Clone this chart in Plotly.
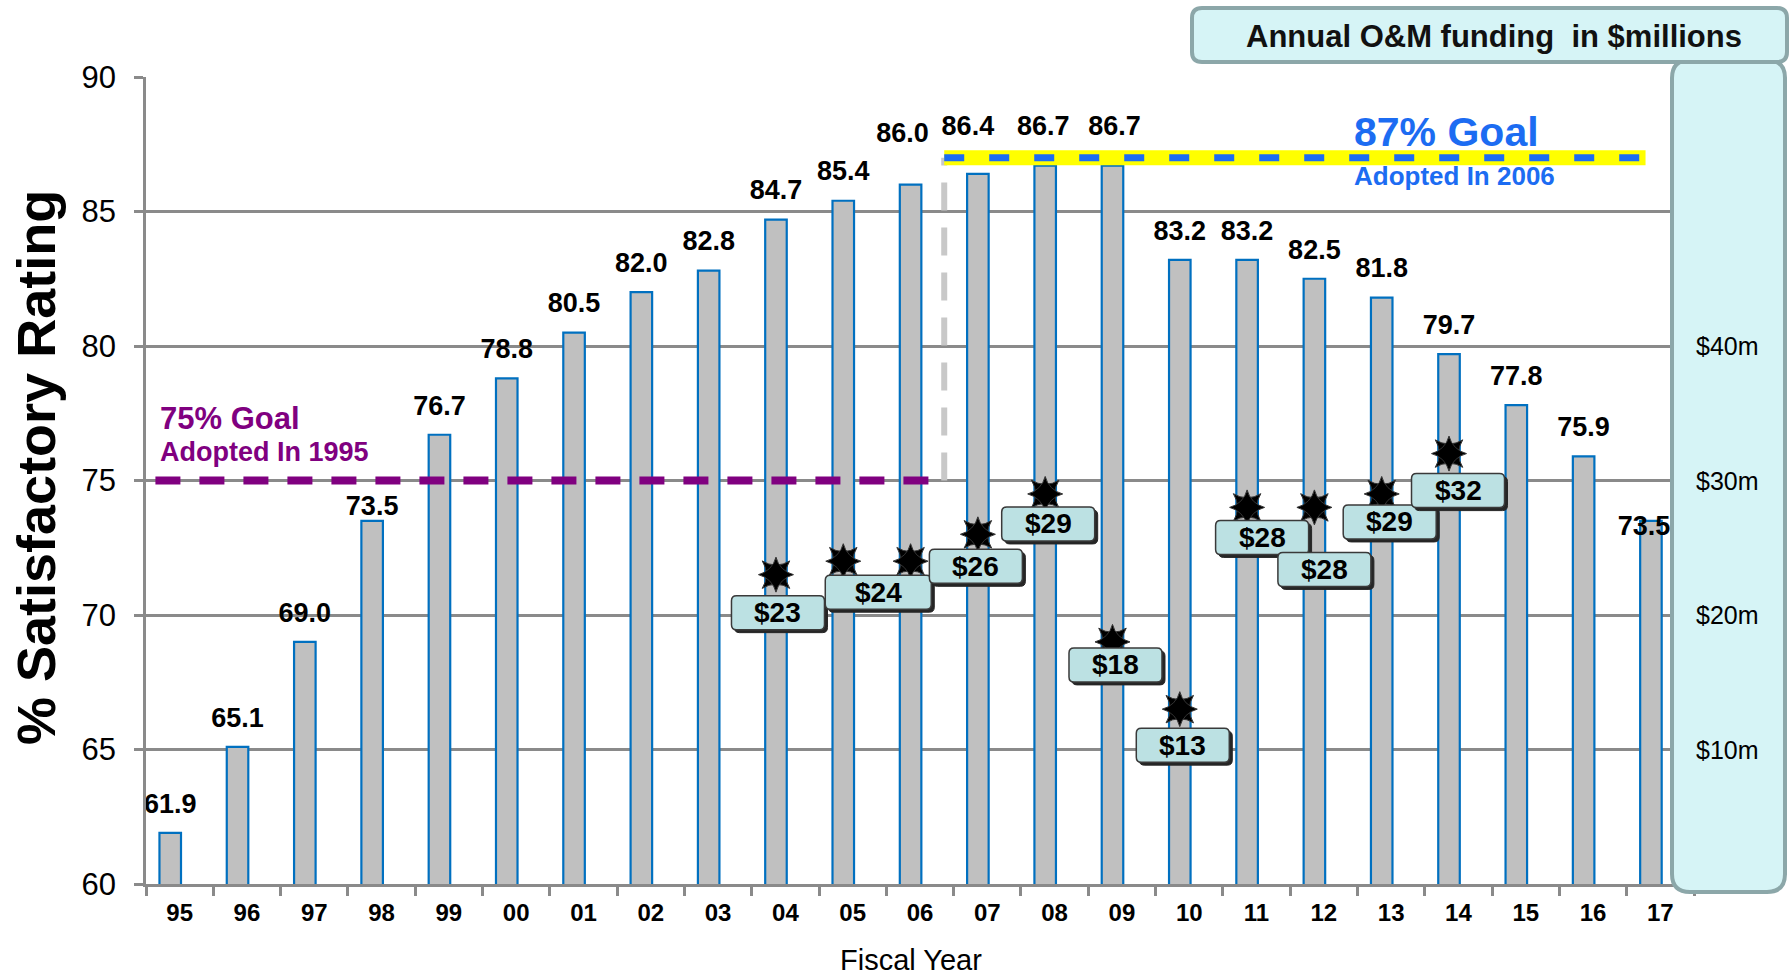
import plotly.graph_objects as go

# ---- data ---------------------------------------------------------------
years = ["95", "96", "97", "98", "99", "00", "01", "02", "03", "04", "05", "06",
         "07", "08", "09", "10", "11", "12", "13", "14", "15", "16", "17"]
rating = [61.9, 65.1, 69.0, 73.5, 76.7, 78.8, 80.5, 82.0, 82.8, 84.7, 85.4, 86.0,
          86.4, 86.7, 86.7, 83.2, 83.2, 82.5, 81.8, 79.7, 77.8, 75.9, 73.5]

funding_years = ["04", "05", "06", "07", "08", "09", "10", "11", "12", "13", "14"]
funding = [23, 24, 24, 26, 29, 18, 13, 28, 28, 29, 32]          # $ millions
callout_years = ["04", "05", "07", "08", "09", "10", "11", "12", "13", "14"]

funding_ticks = [10, 20, 30, 40]
goal_1995 = 75
goal_2006 = 87

# ---- layout constants ----------------------------------------------------
W, H = 1791, 979
ML, MR, MT, MB = 146, 97, 77, 95
PW, PH = W - ML - MR, H - MT - MB
PX_PER_CAT = PW / len(years)
PX_PER_PCT = PH / 30.0
FONT = "Liberation Sans, Arial, Helvetica, sans-serif"
GRID = "#8a8a8a"
BAR_OFFSET, BAR_WIDTH = -0.30, 0.32
BAR_MID = BAR_OFFSET + BAR_WIDTH / 2
idx = {y: i for i, y in enumerate(years)}

# value label placement (px): default lift above the bar top, plus a few hand-placed ones
LABEL_LIFT = 27
label_nudge = {"98": (0, 13), "06": (-8, 49), "07": (-10, 46), "08": (-2, 38),
               "09": (2, 38), "17": (-7, -7)}

# funding callout boxes: (x shift px, y shift px, box width px)
callout_nudge = {"04": (2, -38, 93), "05": (35, -31, 106), "07": (-2, -32, 93), "08": (3, -30, 93),
                 "09": (3, -23, 93), "10": (3, -36, 93), "11": (15, -30, 93), "12": (10, -62, 93),
                 "13": (8, -28, 93), "14": (9, -37, 93)}
BOX_H = 34


def px(xp):
    return (xp - ML) / PW


def py(yp):
    return (H - MB - yp) / PH


def rr_points(x0, y0, x1, y1, r):
    return [("M", x0 + r, y0), ("L", x1 - r, y0), ("Q", x1, y0, x1, y0 + r),
            ("L", x1, y1 - r), ("Q", x1, y1, x1 - r, y1), ("L", x0 + r, y1),
            ("Q", x0, y1, x0, y1 - r), ("L", x0, y0 + r), ("Q", x0, y0, x0 + r, y0)]


def path_from(points, fx, fy, fmt="{:.5f}"):
    out = []
    for p in points:
        cmd, coords = p[0], p[1:]
        xy = [f"{fmt.format(fx(coords[k]))},{fmt.format(fy(coords[k + 1]))}"
              for k in range(0, len(coords), 2)]
        out.append(cmd + " " + " ".join(xy))
    return " ".join(out) + " Z"


def rounded_rect_paper(x0, y0, x1, y1, r):
    return path_from(rr_points(x0, y0, x1, y1, r), px, py)


def rounded_rect_pixels(cx, cy, w, h, r):
    # pixel offsets from the shape anchor (y grows upward)
    return path_from(rr_points(cx - w / 2, cy - h / 2, cx + w / 2, cy + h / 2, r),
                     lambda v: v, lambda v: v, "{:.2f}")


fig = go.Figure()

# rating bars
fig.add_trace(go.Bar(
    x=list(range(len(years))), y=rating, offset=BAR_OFFSET, width=BAR_WIDTH,
    marker=dict(color="#c0c0c0", line=dict(color="#0070c0", width=2.2)),
    hoverinfo="skip",
))

# value labels above the bars
lab_x, lab_y = [], []
for i, (yr, r) in enumerate(zip(years, rating)):
    dx, dy = label_nudge.get(yr, (0, LABEL_LIFT))
    lab_x.append(i + BAR_MID + dx / PX_PER_CAT)
    lab_y.append(r + dy / PX_PER_PCT)
fig.add_trace(go.Scatter(
    x=lab_x, y=lab_y, mode="text", text=[f"{r:.1f}" for r in rating],
    textposition="middle center", cliponaxis=False, hoverinfo="skip",
    textfont=dict(family=FONT, size=27, color="black", weight="bold"),
))

# funding markers (8-point burst from two 4-point stars) on the right-hand scale
star_x = [idx[y] + BAR_MID for y in funding_years]
for sym in ("star-square", "star-diamond"):
    fig.add_trace(go.Scatter(
        x=star_x, y=funding, yaxis="y2", mode="markers",
        marker=dict(symbol=sym, size=25, color="black", line=dict(color="#333", width=1)),
        hoverinfo="skip", cliponaxis=False,
    ))

shapes = []
gx = 11.36        # boundary between the two goal periods
shapes.append(dict(type="line", xref="x", yref="y", x0=gx, x1=gx, y0=goal_1995, y1=goal_2006,
                   line=dict(color="#c8c8c8", width=6, dash="28px,17px"), layer="above"))
shapes.append(dict(type="line", xref="x", yref="y", x0=-0.36, x1=gx, y0=goal_1995, y1=goal_1995,
                   line=dict(color="#800080", width=8, dash="25px,19px"), layer="above"))
shapes.append(dict(type="line", xref="x", yref="y", x0=gx, x1=21.78, y0=goal_2006, y1=goal_2006,
                   line=dict(color="#ffff00", width=15), layer="above"))
shapes.append(dict(type="line", xref="x", yref="y", x0=gx, x1=21.78, y0=goal_2006, y1=goal_2006,
                   line=dict(color="#1c6cf2", width=7, dash="20px,25px"), layer="above"))
# funding scale panel and its header
shapes.append(dict(type="path", xref="paper", yref="paper", layer="above",
                   path=rounded_rect_paper(1672, 60, 1785, 892, 18),
                   fillcolor="#d6f4f6", line=dict(color="#8ca7a9", width=4)))
shapes.append(dict(type="path", xref="paper", yref="paper", layer="above",
                   path=rounded_rect_paper(1192, 8, 1787, 62, 10),
                   fillcolor="#d6f4f6", line=dict(color="#8ca7a9", width=4)))

ann = []
ann.append(dict(text="75% Goal", xref="x", yref="y", x=-0.32, y=77.3, xanchor="left", yanchor="middle",
                showarrow=False, font=dict(family=FONT, size=31, color="#800080", weight="bold")))
ann.append(dict(text="Adopted In 1995", xref="x", yref="y", x=-0.32, y=76.05, xanchor="left", yanchor="middle",
                showarrow=False, font=dict(family=FONT, size=27, color="#800080", weight="bold")))
ann.append(dict(text="87% Goal", xref="x", yref="y", x=17.42, y=87.96, xanchor="left", yanchor="middle",
                showarrow=False, font=dict(family=FONT, size=41, color="#1c6cf2", weight="bold")))
ann.append(dict(text="Adopted In 2006", xref="x", yref="y", x=17.42, y=86.33, xanchor="left", yanchor="middle",
                showarrow=False, font=dict(family=FONT, size=26, color="#1c6cf2", weight="bold")))

# funding callouts: rounded box with drop shadow, value text on top
for y in callout_years:
    v = funding[funding_years.index(y)]
    dx, dy, w = callout_nudge[y]
    anchor = dict(type="path", xref="x", yref="y2", xsizemode="pixel", ysizemode="pixel",
                  xanchor=idx[y] + BAR_MID, yanchor=v, layer="above")
    shapes.append(dict(anchor, path=rounded_rect_pixels(dx + 3, dy - 3, w, BOX_H, 5),
                       fillcolor="#262626", line=dict(color="#262626", width=1)))
    shapes.append(dict(anchor, path=rounded_rect_pixels(dx, dy, w, BOX_H, 5),
                       fillcolor="#bce1e3", line=dict(color="#3a3a3a", width=1.5)))
    ann.append(dict(text=f"${v}", xref="x", yref="y2", x=idx[y] + BAR_MID, y=v, showarrow=False,
                    xshift=dx, yshift=dy, xanchor="center", yanchor="middle",
                    font=dict(family=FONT, size=28, color="black", weight="bold")))

# right-hand funding scale labels
for v in funding_ticks:
    ann.append(dict(text=f"${v}m", xref="paper", yref="y2", x=px(1727), y=v, xanchor="center",
                    yanchor="middle", showarrow=False, font=dict(family=FONT, size=25, color="black")))

ann.append(dict(text="Annual O&M funding  in $millions", xref="paper", yref="paper", x=px(1494), y=py(36),
                xanchor="center", yanchor="middle", showarrow=False,
                font=dict(family=FONT, size=31, color="#111", weight="bold")))
ann.append(dict(text="% Satisfactory Rating", xref="paper", yref="paper", x=px(36), y=py(468),
                xanchor="center", yanchor="middle", textangle=-90, showarrow=False,
                font=dict(family=FONT, size=54, color="black", weight="bold")))
ann.append(dict(text="Fiscal Year", xref="paper", yref="paper", x=px(911), y=py(960),
                xanchor="center", yanchor="middle", showarrow=False,
                font=dict(family=FONT, size=29, color="black")))

fig.update_layout(
    width=W, height=H, margin=dict(l=ML, r=MR, t=MT, b=MB, pad=0),
    paper_bgcolor="white", plot_bgcolor="white", showlegend=False,
    font=dict(family=FONT, color="black"),
    xaxis=dict(range=[-0.5, len(years) - 0.5], tickmode="array", tickvals=list(range(len(years))),
               ticktext=years, ticks="", showline=True, linecolor=GRID, linewidth=2.5,
               showgrid=False, zeroline=False, ticklabelstandoff=5,
               tickfont=dict(family=FONT, size=24, color="black", weight="bold"),
               minor=dict(tickmode="array", tickvals=[i - 0.5 for i in range(len(years) + 1)],
                          ticks="outside", ticklen=9, tickwidth=2.5, tickcolor=GRID, showgrid=False)),
    yaxis=dict(range=[60, 90], tick0=60, dtick=5, showgrid=True, gridcolor=GRID, gridwidth=2.5,
               showline=True, linecolor=GRID, linewidth=2.5, ticks="outside", ticklen=9,
               tickwidth=2.5, tickcolor=GRID, zeroline=False, ticklabelstandoff=12,
               tickfont=dict(family=FONT, size=31, color="black")),
    yaxis2=dict(range=[0, 60], overlaying="y", side="right", showgrid=False, showticklabels=False,
                zeroline=False, showline=False, ticks=""),
    shapes=shapes, annotations=ann,
)

fig.write_html("out.html", post_script="document.body.style.margin='0';")
